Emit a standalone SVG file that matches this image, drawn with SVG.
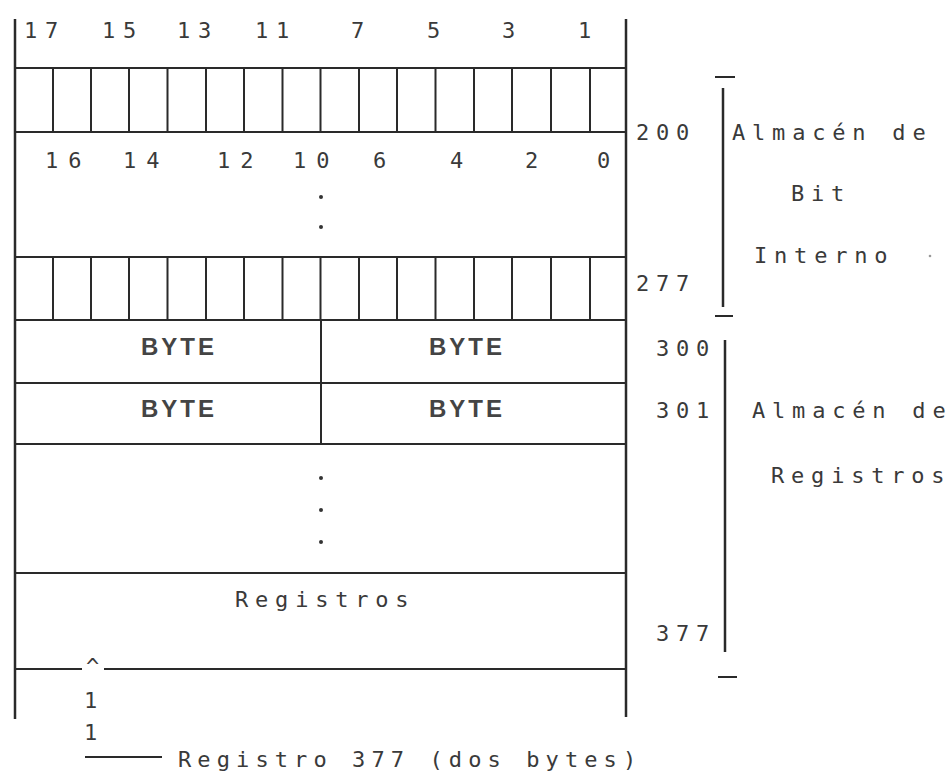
<svg xmlns="http://www.w3.org/2000/svg" width="952" height="773" viewBox="0 0 952 773">
<style>
.ln{stroke:#2a2a2a;stroke-width:2;fill:none}
.vl{stroke:#2a2a2a;stroke-width:2.5;fill:none}
.t{font-family:"DejaVu Sans Mono","Liberation Mono",monospace;font-size:22px;fill:#3a3a3a;letter-spacing:6.8px}
.t1{font-family:"DejaVu Sans Mono","Liberation Mono",monospace;font-size:22px;fill:#3a3a3a;letter-spacing:7.8px}
.t2{font-family:"DejaVu Sans Mono","Liberation Mono",monospace;font-size:22px;fill:#3a3a3a;letter-spacing:10px}
.tb{font-family:"DejaVu Sans Mono","Liberation Mono",monospace;font-size:22px;fill:#3a3a3a;letter-spacing:6.1px}
.b{font-family:"Liberation Sans","DejaVu Sans",sans-serif;font-size:24px;font-weight:bold;fill:#444;letter-spacing:3px}
.dot{fill:#333}
</style>
<rect width="952" height="773" fill="#fff"/>
<g id="frame">
<line class="vl" x1="15" y1="19" x2="15" y2="719"/>
<line class="vl" x1="626" y1="19" x2="626" y2="717"/>
</g>
<g id="bit-row-top">
<line class="ln" x1="15" y1="68" x2="626" y2="68"/>
<line class="ln" x1="15" y1="132" x2="626" y2="132"/>
<path class="ln" d="M53 68V132M91 68V132M129 68V132M167.5 68V132M206 68V132M244 68V132M282.5 68V132M320.5 68V132M359 68V132M397 68V132M435.5 68V132M474 68V132M512 68V132M551 68V132M590 68V132"/>
<text class="t1" x="24" y="38">17</text>
<text class="t1" x="102" y="38">15</text>
<text class="t1" x="177" y="38">13</text>
<text class="t1" x="255" y="38">11</text>
<text class="t1" x="351" y="38">7</text>
<text class="t1" x="427" y="38">5</text>
<text class="t1" x="502" y="38">3</text>
<text class="t1" x="578" y="38">1</text>
<text class="t2" x="45" y="168">16</text>
<text class="t2" x="123" y="168">14</text>
<text class="t2" x="217" y="168">12</text>
<text class="t2" x="293" y="168">10</text>
<text class="t2" x="373" y="168">6</text>
<text class="t2" x="450" y="168">4</text>
<text class="t2" x="525" y="168">2</text>
<text class="t2" x="597" y="168">0</text>
<circle class="dot" cx="321" cy="197" r="2"/>
<circle class="dot" cx="321" cy="227" r="2"/>
</g>
<g id="bit-row-bottom">
<line class="ln" x1="15" y1="257" x2="626" y2="257"/>
<line class="ln" x1="15" y1="320" x2="626" y2="320"/>
<path class="ln" d="M53 257V320M91 257V320M129 257V320M167.5 257V320M206 257V320M244 257V320M282.5 257V320M320.5 257V320M359 257V320M397 257V320M435.5 257V320M474 257V320M512 257V320M551 257V320M590 257V320"/>
</g>
<g id="byte-rows">
<line class="ln" x1="15" y1="383" x2="626" y2="383"/>
<line class="ln" x1="15" y1="444" x2="626" y2="444"/>
<line class="ln" x1="321" y1="320" x2="321" y2="444"/>
<text class="b" x="141" y="355">BYTE</text>
<text class="b" x="429" y="355">BYTE</text>
<text class="b" x="141" y="417">BYTE</text>
<text class="b" x="429" y="417">BYTE</text>
<circle class="dot" cx="321" cy="478" r="2"/>
<circle class="dot" cx="321" cy="510" r="2"/>
<circle class="dot" cx="321" cy="542" r="2"/>
</g>
<g id="registros">
<line class="ln" x1="15" y1="573" x2="626" y2="573"/>
<text class="t" x="235" y="607">Registros</text>
<line class="ln" x1="15" y1="669" x2="82" y2="669"/>
<line class="ln" x1="104" y1="669" x2="626" y2="669"/>
<text class="t" x="86" y="674">^</text>
<text class="t" x="84" y="708">1</text>
<text class="t" x="84" y="740">1</text>
<line class="ln" x1="85" y1="757" x2="162" y2="757"/>
<text class="tb" x="178" y="767">Registro 377 (dos bytes)</text>
</g>
<g id="bit-store-label">
<line class="ln" x1="715" y1="77" x2="735" y2="77"/>
<line class="vl" x1="723" y1="88" x2="723" y2="307"/>
<line class="ln" x1="715" y1="316" x2="733" y2="316"/>
<text class="t" x="636" y="140">200</text>
<text class="t" x="732" y="140">Almacén de</text>
<text class="t" x="791" y="201">Bit</text>
<text class="t" x="754" y="263">Interno</text>
<circle cx="930" cy="256" r="1.3" fill="#999"/>
<text class="t" x="636" y="291">277</text>
</g>
<g id="register-store-label">
<line class="vl" x1="725" y1="340" x2="725" y2="652"/>
<line class="ln" x1="718" y1="677" x2="737" y2="677"/>
<text class="t" x="656" y="356">300</text>
<text class="t" x="656" y="418">301</text>
<text class="t" x="752" y="418">Almacén de</text>
<text class="t" x="771" y="483">Registros</text>
<text class="t" x="656" y="641">377</text>
</g>
</svg>
